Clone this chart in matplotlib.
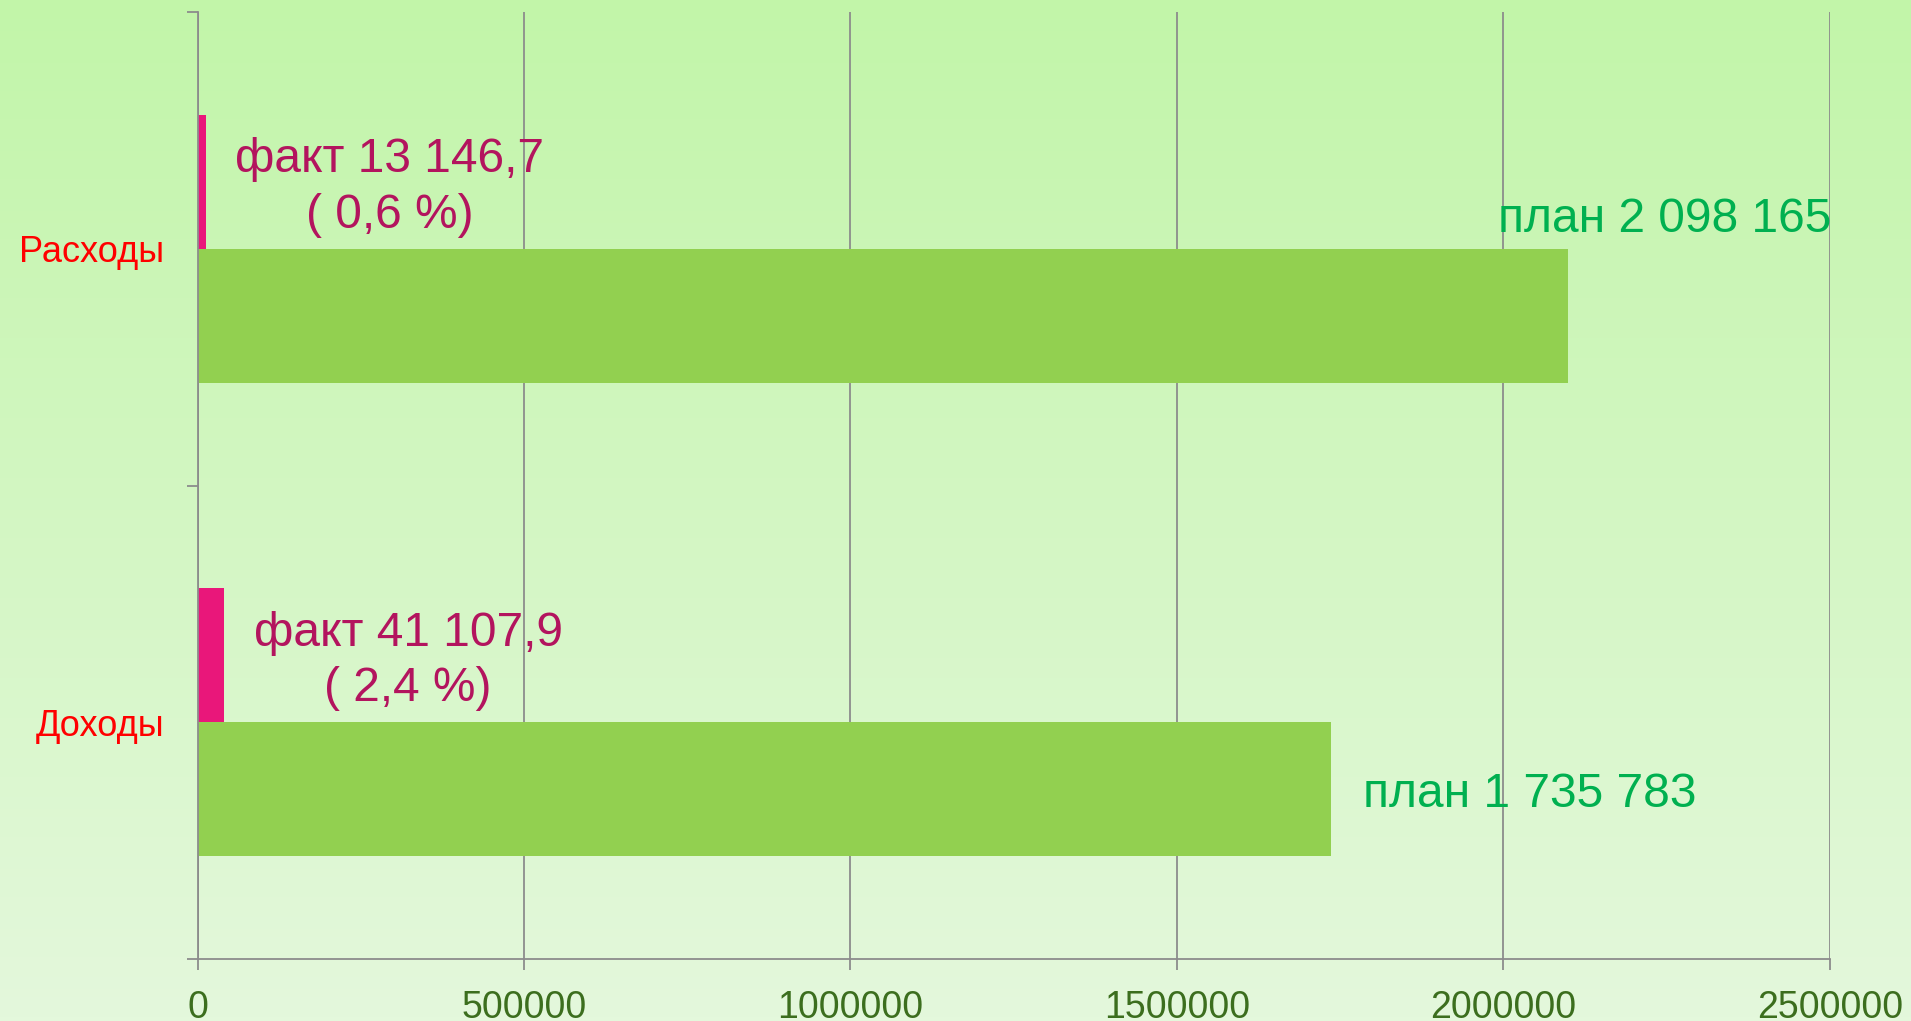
import numpy as np
import matplotlib
matplotlib.use("Agg")
import matplotlib.pyplot as plt
from matplotlib.colors import LinearSegmentedColormap

plt.rcParams['font.family'] = ['Liberation Sans', 'DejaVu Sans']

# ---- data ----
categories = ["Доходы", "Расходы"]
plan_values = [1735783, 2098165]
fact_values = [41107.9, 13146.7]
fact_labels = ["факт 41 107,9\n( 2,4 %)", "факт 13 146,7\n( 0,6 %)"]
plan_labels = ["план 1 735 783", "план 2 098 165"]
x_ticks = [0, 500000, 1000000, 1500000, 2000000, 2500000]
x_tick_labels = ["0", "500000", "1000000", "1500000", "2000000", "2500000"]

W, H, DPI = 1911, 1021, 100
fig = plt.figure(figsize=(W / DPI, H / DPI), dpi=DPI)

# background gradient
bg = fig.add_axes([0, 0, 1, 1], zorder=-10)
cmap = LinearSegmentedColormap.from_list("bg", ["#C2F5A9", "#E4F8DC"])
grad = np.linspace(0, 1, 256).reshape(-1, 1)
bg.imshow(grad, aspect="auto", cmap=cmap, extent=[0, 1, 0, 1], origin="upper")
bg.set_axis_off()

ax = fig.add_axes([197.5 / W, 1 - 959 / H, (1830 - 197.5) / W, (959 - 12) / H])
ax.set_facecolor("none")

h = 0.283
y = np.arange(len(categories))
ax.barh(y - h / 2, plan_values, height=h, color="#92D050", zorder=2)
ax.barh(y + h / 2, fact_values, height=h, color="#E9177A", zorder=2)

ax.set_xlim(0, 2500000)
ax.set_ylim(-0.5, 1.5)

# fact labels (outside end)
for yi, v, lab in zip(y, fact_values, fact_labels):
    ax.annotate(lab, xy=(v, yi + h / 2), xytext=(21, -4), textcoords="offset points",
                ha="left", va="center", multialignment="center",
                fontsize=34.5, color="#B3145E", zorder=3, linespacing=1.3)

# plan labels
plan_offsets = [(23, -4), (-50, 69)]
for yi, v, lab, off in zip(y, plan_values, plan_labels, plan_offsets):
    ax.annotate(lab, xy=(v, yi - h / 2), xytext=off, textcoords="offset points",
                ha="left", va="center", fontsize=34.5, color="#00B050", zorder=3)

# axes styling
grid_c = "#8C8C8C"
ax.set_xticks(x_ticks)
ax.set_xticklabels(x_tick_labels)
ax.xaxis.grid(True, color=grid_c, linewidth=1.3, zorder=0)
ax.set_axisbelow(True)
ax.tick_params(axis="x", length=8, width=1.3, color=grid_c, labelsize=27,
               labelcolor="#3C6E1E", pad=14)

ax.set_yticks(y)
ax.set_yticklabels(categories)
ax.tick_params(axis="y", which="major", length=0, labelsize=26, labelcolor="#FF0000", pad=24)
ax.set_yticks([-0.5, 0.5, 1.5], minor=True)
ax.tick_params(axis="y", which="minor", length=8, width=1.3, color=grid_c)

for s in ["top", "right"]:
    ax.spines[s].set_visible(False)
for s in ["left", "bottom"]:
    ax.spines[s].set_color(grid_c)
    ax.spines[s].set_linewidth(1.3)

fig.savefig("out.png", dpi=DPI)
